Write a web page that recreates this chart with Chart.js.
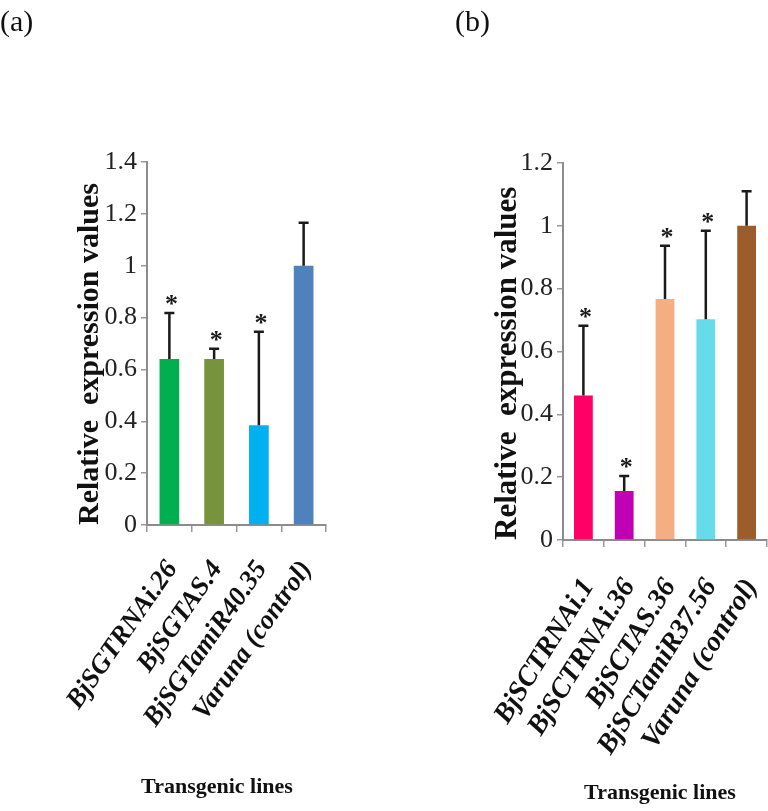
<!DOCTYPE html>
<html>
<head>
<meta charset="utf-8">
<script src="https://cdn.jsdelivr.net/npm/chart.js@4.4.1/dist/chart.umd.min.js"></script>
<style>
  html, body { margin: 0; padding: 0; background: #fff; }
  body { width: 768px; height: 811px; position: relative; overflow: hidden; }
  .panel { position: absolute; top: 0; height: 811px; }
  #wrapA { left: 0; width: 400px; }
  #wrapB { left: 400px; width: 417px; }
</style>
</head>
<body>
<div id="wrapA" class="panel"><canvas id="chartA"></canvas></div>
<div id="wrapB" class="panel"><canvas id="chartB"></canvas></div>
<script>
// panel (a)
const labelsA = ['BjSGTRNAi.26', 'BjSGTAS.4', 'BjSGTamiR40.35', 'Varuna (control)'];
const valuesA = [0.64, 0.64, 0.385, 1.0];
const errorsA = [0.178, 0.04, 0.36, 0.166];
const signifA = [true, true, true, false];
const colorsA = ['#00b050', '#77933c', '#00b0f0', '#4f81bd'];

// panel (b)
const labelsB = ['BjSCTRNAi.1', 'BjSCTRNAi.36', 'BjSCTAS.36', 'BjSCTamiR37.56', 'Varuna (control)'];
const valuesB = [0.46, 0.156, 0.767, 0.703, 1.0];
const errorsB = [0.222, 0.048, 0.17, 0.281, 0.11];
const signifB = [true, true, true, true, false];
const colorsB = ['#ff0066', '#c000b4', '#f5ae7f', '#66dcea', '#9c5c2c'];

const SERIF = '"Liberation Serif", "Times New Roman", serif';

// error whiskers (upper only) + significance stars
const errorBarPlugin = {
  id: 'errorBars',
  afterDatasetsDraw(chart, args, opts) {
    const ctx = chart.ctx;
    const yScale = chart.scales.y;
    const meta = chart.getDatasetMeta(0);
    const values = chart.data.datasets[0].data;
    ctx.save();
    ctx.strokeStyle = '#1a1a1a';
    ctx.fillStyle = '#1a1a1a';
    ctx.lineWidth = 2.5;
    meta.data.forEach((bar, i) => {
      const top = yScale.getPixelForValue(values[i] + opts.errors[i]);
      ctx.beginPath();
      ctx.moveTo(bar.x, bar.y);
      ctx.lineTo(bar.x, top);
      ctx.moveTo(bar.x - 5, top);
      ctx.lineTo(bar.x + 5, top);
      ctx.stroke();
      if (opts.signif[i]) {
        ctx.font = 'bold 26px ' + SERIF;
        ctx.textAlign = 'center';
        ctx.textBaseline = 'alphabetic';
        ctx.fillText('*', bar.x + 2, top - 1);
      }
    });
    ctx.restore();
  }
};

// panel letter and x title
const panelTextPlugin = {
  id: 'panelText',
  afterDraw(chart, args, opts) {
    const ctx = chart.ctx;
    ctx.save();
    ctx.fillStyle = '#111';
    ctx.font = '30px ' + SERIF;
    ctx.textAlign = 'left';
    ctx.textBaseline = 'top';
    ctx.fillText(opts.panel, opts.panelX, opts.panelY);
    ctx.font = 'bold 22px ' + SERIF;
    ctx.textAlign = 'center';
    ctx.textBaseline = 'middle';
    ctx.fillText(opts.xTitle, opts.xTitleX, opts.xTitleY);
    ctx.restore();
  }
};

function makeChart(id, labels, values, errors, signif, colors, cfg) {
  return new Chart(document.getElementById(id), {
    type: 'bar',
    data: {
      labels: labels,
      datasets: [{
        data: values,
        backgroundColor: colors,
        borderWidth: 0,
        barPercentage: cfg.barPct,
        categoryPercentage: 1
      }]
    },
    options: {
      responsive: true,
      maintainAspectRatio: false,
      animation: false,
      layout: { padding: cfg.padding },
      plugins: {
        legend: { display: false },
        tooltip: { enabled: false },
        errorBars: { errors: errors, signif: signif },
        panelText: cfg.text
      },
      scales: {
        x: {
          ticks: {
            autoSkip: false,
            minRotation: cfg.rotation,
            maxRotation: cfg.rotation,
            color: '#111',
            padding: cfg.xPad,
            labelOffset: cfg.xShift,
            font: { family: SERIF, size: cfg.xFont, style: 'italic', weight: 'bold' }
          },
          grid: { offset: true, drawOnChartArea: false, tickLength: 7, color: '#999', lineWidth: 1.5 },
          border: { color: '#8c8c8c', width: 2 },
          afterFit: s => { s.height = cfg.xHeight; }
        },
        y: {
          min: 0,
          max: cfg.yMax,
          ticks: {
            stepSize: 0.2,
            color: '#222',
            padding: 4,
            font: { family: SERIF, size: 26 },
            callback: v => String(+v.toFixed(1))
          },
          grid: { drawOnChartArea: false, tickLength: 6, color: '#999', lineWidth: 1.5 },
          border: { color: '#8c8c8c', width: 2 },
          title: {
            display: true,
            text: 'Relative  expression values',
            align: 'start',
            color: '#111',
            padding: 0,
            font: { family: SERIF, size: cfg.yTitleSize, weight: 'bold' }
          },
          afterFit: s => { s.width = cfg.yWidth; }
        }
      }
    },
    plugins: [errorBarPlugin, panelTextPlugin]
  });
}

makeChart('chartA', labelsA, valuesA, errorsA, signifA, colorsA, {
  barPct: 0.44, rotation: 55, yMax: 1.4, yTitleSize: 30, xFont: 27, xPad: 23, xShift: 3,
  padding: { left: 72, top: 162, right: 74, bottom: 0 },
  yWidth: 75, xHeight: 286,
  text: { panel: '(a)', panelX: 0, panelY: 8, xTitle: 'Transgenic lines', xTitleX: 217, xTitleY: 787 }
});

makeChart('chartB', labelsB, valuesB, errorsB, signifB, colorsB, {
  barPct: 0.46, rotation: 58, yMax: 1.2, yTitleSize: 31, xFont: 28, xPad: 26, xShift: 5,
  padding: { left: 89, top: 163, right: 50, bottom: 0 },
  yWidth: 74, xHeight: 271,
  text: { panel: '(b)', panelX: 55, panelY: 8, xTitle: 'Transgenic lines', xTitleX: 260, xTitleY: 793 }
});
</script>
</body>
</html>
